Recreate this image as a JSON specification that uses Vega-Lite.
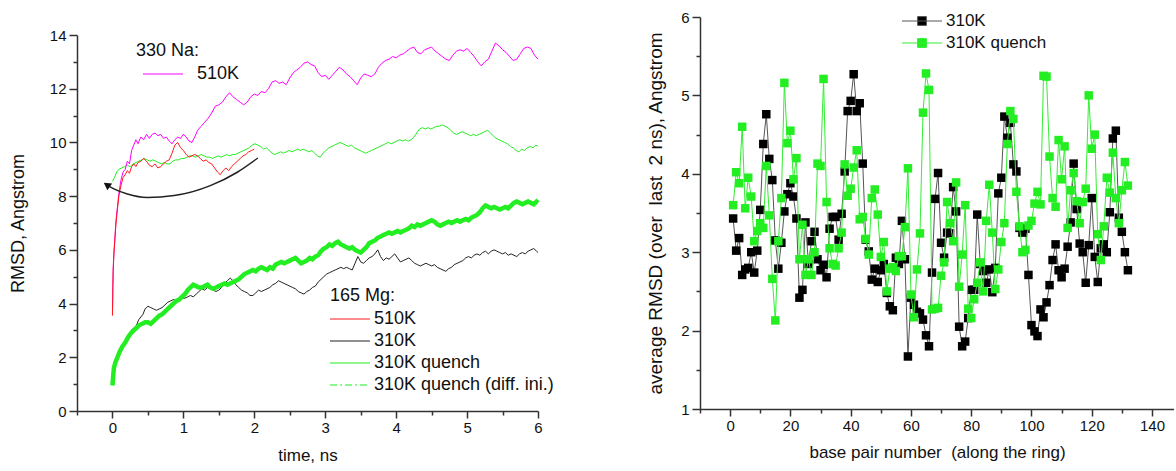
{
"$schema": "https://vega.github.io/schema/vega-lite/v6.json",
"background": "white",
"padding": {"left": 9, "top": 10, "right": 0, "bottom": 0},
"spacing": 92,
"resolve": {"scale": {"color": "independent", "stroke": "independent"}, "legend": {"color": "independent", "stroke": "independent"}},
"config": {
  "view": {"stroke": null},
  "font": "Liberation Sans",
  "axis": {"domainColor": "#333", "domainWidth": 1.5, "tickColor": "#333", "tickWidth": 1.5, "labelFont": "Liberation Sans", "labelFontSize": 15, "labelColor": "#111", "titleFont": "Liberation Sans", "titleFontSize": 17, "titleFontWeight": "normal", "titleColor": "#111", "grid": false, "labelPadding": 3, "labelFlush": false, "labelOverlap": false},
  "legend": {"titleFont": "Liberation Sans", "labelFont": "Liberation Sans", "titleFontWeight": "normal", "titleColor": "#111", "labelColor": "#111", "labelLimit": 400}
},
"datasets": {
"na510": [{"t":0,"v":3.6},{"t":0.005,"v":4.6},{"t":0.01,"v":5.3},{"t":0.02,"v":5.9},{"t":0.035,"v":6.5},{"t":0.05,"v":7.1},{"t":0.07,"v":7.6},{"t":0.09,"v":8.1},{"t":0.12,"v":8.6},{"t":0.15,"v":8.9},{"t":0.18,"v":9.0},{"t":0.21,"v":9.3},{"t":0.24,"v":9.2},{"t":0.27,"v":9.7},{"t":0.3,"v":9.9},{"t":0.33,"v":10.1},{"t":0.36,"v":9.95},{"t":0.4,"v":10.2},{"t":0.44,"v":10.1},{"t":0.48,"v":10.3},{"t":0.52,"v":10.15},{"t":0.56,"v":10.3},{"t":0.6,"v":10.35},{"t":0.64,"v":10.25},{"t":0.68,"v":10.3},{"t":0.72,"v":10.15},{"t":0.76,"v":10.2},{"t":0.8,"v":10.05},{"t":0.84,"v":9.95},{"t":0.88,"v":10.1},{"t":0.92,"v":10.2},{"t":0.96,"v":10.15},{"t":1.0,"v":10.3},{"t":1.04,"v":10.2},{"t":1.08,"v":10.05},{"t":1.12,"v":10.0},{"t":1.16,"v":10.2},{"t":1.2,"v":10.45},{"t":1.25,"v":10.6},{"t":1.3,"v":10.75},{"t":1.35,"v":10.9},{"t":1.4,"v":11.1},{"t":1.45,"v":11.35},{"t":1.5,"v":11.4},{"t":1.55,"v":11.5},{"t":1.6,"v":11.7},{"t":1.65,"v":11.85},{"t":1.7,"v":11.7},{"t":1.75,"v":11.6},{"t":1.8,"v":11.5},{"t":1.85,"v":11.4},{"t":1.9,"v":11.5},{"t":1.95,"v":11.7},{"t":2.0,"v":11.8},{"t":2.05,"v":11.75},{"t":2.1,"v":11.9},{"t":2.15,"v":11.85},{"t":2.2,"v":12.0},{"t":2.25,"v":12.25},{"t":2.3,"v":12.3},{"t":2.35,"v":12.2},{"t":2.4,"v":12.25},{"t":2.45,"v":12.15},{"t":2.5,"v":12.4},{"t":2.55,"v":12.6},{"t":2.6,"v":12.7},{"t":2.65,"v":12.8},{"t":2.7,"v":12.95},{"t":2.75,"v":13.0},{"t":2.8,"v":12.9},{"t":2.85,"v":12.85},{"t":2.9,"v":12.6},{"t":2.95,"v":12.45},{"t":3.0,"v":12.5},{"t":3.05,"v":12.35},{"t":3.1,"v":12.5},{"t":3.15,"v":12.65},{"t":3.2,"v":12.8},{"t":3.25,"v":12.7},{"t":3.3,"v":12.55},{"t":3.35,"v":12.45},{"t":3.4,"v":12.3},{"t":3.45,"v":12.15},{"t":3.5,"v":12.4},{"t":3.55,"v":12.55},{"t":3.6,"v":12.5},{"t":3.65,"v":12.45},{"t":3.7,"v":12.55},{"t":3.75,"v":12.8},{"t":3.8,"v":12.95},{"t":3.85,"v":13.05},{"t":3.9,"v":13.1},{"t":3.95,"v":13.2},{"t":4.0,"v":13.15},{"t":4.05,"v":13.25},{"t":4.1,"v":13.3},{"t":4.15,"v":13.4},{"t":4.2,"v":13.5},{"t":4.25,"v":13.55},{"t":4.3,"v":13.35},{"t":4.35,"v":13.3},{"t":4.4,"v":13.45},{"t":4.45,"v":13.5},{"t":4.5,"v":13.55},{"t":4.55,"v":13.4},{"t":4.6,"v":13.3},{"t":4.65,"v":13.2},{"t":4.7,"v":13.1},{"t":4.75,"v":13.05},{"t":4.8,"v":13.25},{"t":4.85,"v":13.4},{"t":4.9,"v":13.45},{"t":4.95,"v":13.4},{"t":5.0,"v":13.5},{"t":5.05,"v":13.35},{"t":5.1,"v":13.2},{"t":5.15,"v":13.0},{"t":5.2,"v":12.85},{"t":5.25,"v":13.0},{"t":5.3,"v":13.1},{"t":5.35,"v":13.4},{"t":5.4,"v":13.7},{"t":5.45,"v":13.6},{"t":5.5,"v":13.45},{"t":5.55,"v":13.35},{"t":5.6,"v":13.2},{"t":5.65,"v":13.05},{"t":5.7,"v":13.1},{"t":5.75,"v":13.3},{"t":5.8,"v":13.5},{"t":5.85,"v":13.55},{"t":5.9,"v":13.5},{"t":5.95,"v":13.25},{"t":6.0,"v":13.1}],
"mg510": [{"t":0,"v":3.55},{"t":0.005,"v":4.5},{"t":0.01,"v":5.2},{"t":0.02,"v":5.8},{"t":0.035,"v":6.4},{"t":0.05,"v":7.0},{"t":0.07,"v":7.5},{"t":0.09,"v":8.0},{"t":0.12,"v":8.4},{"t":0.15,"v":8.7},{"t":0.18,"v":8.8},{"t":0.21,"v":8.95},{"t":0.24,"v":8.85},{"t":0.27,"v":9.1},{"t":0.3,"v":9.2},{"t":0.33,"v":9.1},{"t":0.36,"v":9.25},{"t":0.4,"v":9.3},{"t":0.44,"v":9.4},{"t":0.48,"v":9.3},{"t":0.52,"v":9.15},{"t":0.56,"v":9.1},{"t":0.6,"v":9.2},{"t":0.64,"v":9.05},{"t":0.68,"v":9.1},{"t":0.72,"v":9.2},{"t":0.76,"v":9.3},{"t":0.8,"v":9.35},{"t":0.84,"v":9.6},{"t":0.88,"v":9.9},{"t":0.92,"v":10.0},{"t":0.96,"v":9.8},{"t":1.0,"v":9.7},{"t":1.04,"v":9.55},{"t":1.08,"v":9.45},{"t":1.12,"v":9.5},{"t":1.16,"v":9.55},{"t":1.2,"v":9.5},{"t":1.24,"v":9.4},{"t":1.28,"v":9.3},{"t":1.32,"v":9.35},{"t":1.36,"v":9.25},{"t":1.4,"v":9.2},{"t":1.44,"v":9.05},{"t":1.48,"v":8.9},{"t":1.52,"v":8.8},{"t":1.56,"v":8.95},{"t":1.6,"v":9.05},{"t":1.64,"v":8.95},{"t":1.68,"v":9.1},{"t":1.72,"v":9.2},{"t":1.76,"v":9.3},{"t":1.8,"v":9.4},{"t":1.84,"v":9.5},{"t":1.88,"v":9.55},{"t":1.92,"v":9.65},{"t":1.96,"v":9.7},{"t":2.0,"v":9.75}],
"q310": [{"t":0,"v":8.55},{"t":0.03,"v":8.7},{"t":0.06,"v":8.9},{"t":0.09,"v":9.0},{"t":0.13,"v":9.05},{"t":0.17,"v":9.1},{"t":0.21,"v":9.15},{"t":0.25,"v":9.1},{"t":0.29,"v":9.2},{"t":0.33,"v":9.25},{"t":0.37,"v":9.3},{"t":0.41,"v":9.35},{"t":0.45,"v":9.4},{"t":0.49,"v":9.35},{"t":0.53,"v":9.3},{"t":0.57,"v":9.35},{"t":0.61,"v":9.3},{"t":0.65,"v":9.25},{"t":0.69,"v":9.2},{"t":0.73,"v":9.25},{"t":0.77,"v":9.2},{"t":0.81,"v":9.2},{"t":0.85,"v":9.3},{"t":0.89,"v":9.35},{"t":0.93,"v":9.35},{"t":0.97,"v":9.4},{"t":1.01,"v":9.4},{"t":1.05,"v":9.45},{"t":1.09,"v":9.5},{"t":1.13,"v":9.5},{"t":1.17,"v":9.45},{"t":1.21,"v":9.5},{"t":1.25,"v":9.55},{"t":1.29,"v":9.5},{"t":1.33,"v":9.45},{"t":1.37,"v":9.45},{"t":1.41,"v":9.4},{"t":1.45,"v":9.45},{"t":1.49,"v":9.5},{"t":1.53,"v":9.45},{"t":1.57,"v":9.5},{"t":1.61,"v":9.55},{"t":1.65,"v":9.5},{"t":1.69,"v":9.55},{"t":1.73,"v":9.55},{"t":1.77,"v":9.6},{"t":1.81,"v":9.65},{"t":1.85,"v":9.7},{"t":1.89,"v":9.75},{"t":1.93,"v":9.8},{"t":1.97,"v":9.9},{"t":2.01,"v":9.95},{"t":2.05,"v":9.9},{"t":2.09,"v":9.85},{"t":2.13,"v":9.75},{"t":2.17,"v":9.8},{"t":2.21,"v":9.7},{"t":2.25,"v":9.6},{"t":2.29,"v":9.55},{"t":2.33,"v":9.6},{"t":2.37,"v":9.65},{"t":2.41,"v":9.6},{"t":2.45,"v":9.65},{"t":2.49,"v":9.7},{"t":2.53,"v":9.65},{"t":2.57,"v":9.7},{"t":2.61,"v":9.75},{"t":2.65,"v":9.7},{"t":2.69,"v":9.75},{"t":2.73,"v":9.7},{"t":2.77,"v":9.65},{"t":2.81,"v":9.7},{"t":2.85,"v":9.6},{"t":2.89,"v":9.5},{"t":2.93,"v":9.45},{"t":2.97,"v":9.6},{"t":3.01,"v":9.7},{"t":3.05,"v":9.8},{"t":3.09,"v":9.85},{"t":3.13,"v":9.9},{"t":3.17,"v":9.95},{"t":3.21,"v":10.0},{"t":3.25,"v":9.95},{"t":3.29,"v":9.9},{"t":3.33,"v":9.85},{"t":3.37,"v":9.9},{"t":3.41,"v":9.8},{"t":3.45,"v":9.75},{"t":3.49,"v":9.7},{"t":3.53,"v":9.65},{"t":3.57,"v":9.6},{"t":3.61,"v":9.65},{"t":3.65,"v":9.7},{"t":3.69,"v":9.75},{"t":3.73,"v":9.8},{"t":3.77,"v":9.85},{"t":3.81,"v":9.9},{"t":3.85,"v":9.95},{"t":3.89,"v":10.0},{"t":3.93,"v":9.95},{"t":3.97,"v":10.0},{"t":4.01,"v":10.05},{"t":4.05,"v":10.1},{"t":4.09,"v":10.05},{"t":4.13,"v":10.1},{"t":4.17,"v":10.05},{"t":4.21,"v":10.1},{"t":4.25,"v":10.2},{"t":4.29,"v":10.35},{"t":4.33,"v":10.5},{"t":4.37,"v":10.55},{"t":4.41,"v":10.5},{"t":4.45,"v":10.55},{"t":4.49,"v":10.5},{"t":4.53,"v":10.55},{"t":4.57,"v":10.6},{"t":4.61,"v":10.6},{"t":4.65,"v":10.65},{"t":4.69,"v":10.6},{"t":4.73,"v":10.55},{"t":4.77,"v":10.45},{"t":4.81,"v":10.35},{"t":4.85,"v":10.3},{"t":4.89,"v":10.35},{"t":4.93,"v":10.4},{"t":4.97,"v":10.35},{"t":5.01,"v":10.3},{"t":5.05,"v":10.25},{"t":5.09,"v":10.3},{"t":5.13,"v":10.25},{"t":5.17,"v":10.3},{"t":5.21,"v":10.35},{"t":5.25,"v":10.4},{"t":5.29,"v":10.45},{"t":5.33,"v":10.35},{"t":5.37,"v":10.25},{"t":5.41,"v":10.15},{"t":5.45,"v":10.1},{"t":5.49,"v":10.05},{"t":5.53,"v":10.0},{"t":5.57,"v":9.95},{"t":5.61,"v":9.85},{"t":5.65,"v":9.8},{"t":5.69,"v":9.7},{"t":5.73,"v":9.65},{"t":5.77,"v":9.75},{"t":5.81,"v":9.7},{"t":5.85,"v":9.8},{"t":5.89,"v":9.85},{"t":5.93,"v":9.8},{"t":5.97,"v":9.9},{"t":6.0,"v":9.85}],
"mg310": [{"t":0,"v":1.0},{"t":0.02,"v":1.5},{"t":0.04,"v":1.8},{"t":0.07,"v":2.0},{"t":0.1,"v":2.2},{"t":0.13,"v":2.35},{"t":0.16,"v":2.5},{"t":0.19,"v":2.6},{"t":0.22,"v":2.75},{"t":0.25,"v":2.9},{"t":0.28,"v":3.05},{"t":0.31,"v":3.1},{"t":0.34,"v":3.2},{"t":0.37,"v":3.4},{"t":0.4,"v":3.5},{"t":0.43,"v":3.6},{"t":0.46,"v":3.8},{"t":0.5,"v":3.9},{"t":0.54,"v":3.85},{"t":0.58,"v":3.8},{"t":0.62,"v":3.75},{"t":0.66,"v":3.8},{"t":0.7,"v":3.85},{"t":0.74,"v":3.95},{"t":0.78,"v":4.05},{"t":0.82,"v":4.1},{"t":0.86,"v":4.15},{"t":0.9,"v":4.1},{"t":0.94,"v":4.15},{"t":0.98,"v":4.2},{"t":1.02,"v":4.2},{"t":1.06,"v":4.25},{"t":1.1,"v":4.3},{"t":1.14,"v":4.25},{"t":1.18,"v":4.35},{"t":1.22,"v":4.45},{"t":1.26,"v":4.55},{"t":1.3,"v":4.5},{"t":1.34,"v":4.6},{"t":1.38,"v":4.55},{"t":1.42,"v":4.5},{"t":1.46,"v":4.45},{"t":1.5,"v":4.5},{"t":1.54,"v":4.6},{"t":1.58,"v":4.75},{"t":1.62,"v":4.85},{"t":1.66,"v":4.95},{"t":1.7,"v":4.85},{"t":1.74,"v":4.7},{"t":1.78,"v":4.6},{"t":1.82,"v":4.5},{"t":1.86,"v":4.45},{"t":1.9,"v":4.4},{"t":1.94,"v":4.3},{"t":1.98,"v":4.3},{"t":2.02,"v":4.4},{"t":2.06,"v":4.5},{"t":2.1,"v":4.45},{"t":2.14,"v":4.5},{"t":2.18,"v":4.55},{"t":2.22,"v":4.6},{"t":2.26,"v":4.7},{"t":2.3,"v":4.75},{"t":2.34,"v":4.85},{"t":2.38,"v":4.8},{"t":2.42,"v":4.75},{"t":2.46,"v":4.7},{"t":2.5,"v":4.65},{"t":2.54,"v":4.6},{"t":2.58,"v":4.55},{"t":2.62,"v":4.45},{"t":2.66,"v":4.4},{"t":2.7,"v":4.35},{"t":2.74,"v":4.45},{"t":2.78,"v":4.5},{"t":2.82,"v":4.6},{"t":2.86,"v":4.65},{"t":2.9,"v":4.8},{"t":2.94,"v":4.9},{"t":2.98,"v":5.0},{"t":3.02,"v":5.1},{"t":3.06,"v":5.15},{"t":3.1,"v":5.2},{"t":3.14,"v":5.25},{"t":3.18,"v":5.3},{"t":3.22,"v":5.35},{"t":3.26,"v":5.3},{"t":3.3,"v":5.35},{"t":3.34,"v":5.3},{"t":3.38,"v":5.25},{"t":3.42,"v":5.5},{"t":3.46,"v":5.75},{"t":3.5,"v":5.55},{"t":3.54,"v":5.5},{"t":3.58,"v":5.6},{"t":3.62,"v":5.7},{"t":3.66,"v":5.75},{"t":3.7,"v":5.85},{"t":3.74,"v":6.0},{"t":3.78,"v":5.75},{"t":3.82,"v":5.6},{"t":3.86,"v":5.7},{"t":3.9,"v":5.65},{"t":3.94,"v":5.75},{"t":3.98,"v":5.85},{"t":4.02,"v":5.7},{"t":4.06,"v":5.55},{"t":4.1,"v":5.6},{"t":4.14,"v":5.65},{"t":4.18,"v":5.7},{"t":4.22,"v":5.6},{"t":4.26,"v":5.5},{"t":4.3,"v":5.45},{"t":4.34,"v":5.4},{"t":4.38,"v":5.45},{"t":4.42,"v":5.5},{"t":4.46,"v":5.45},{"t":4.5,"v":5.4},{"t":4.54,"v":5.45},{"t":4.58,"v":5.35},{"t":4.62,"v":5.3},{"t":4.66,"v":5.25},{"t":4.7,"v":5.2},{"t":4.74,"v":5.3},{"t":4.78,"v":5.35},{"t":4.82,"v":5.45},{"t":4.86,"v":5.5},{"t":4.9,"v":5.55},{"t":4.94,"v":5.6},{"t":4.98,"v":5.7},{"t":5.02,"v":5.75},{"t":5.06,"v":5.7},{"t":5.1,"v":5.8},{"t":5.14,"v":5.85},{"t":5.18,"v":5.8},{"t":5.22,"v":5.9},{"t":5.26,"v":5.95},{"t":5.3,"v":5.85},{"t":5.34,"v":5.95},{"t":5.38,"v":6.0},{"t":5.42,"v":5.95},{"t":5.46,"v":5.9},{"t":5.5,"v":5.85},{"t":5.54,"v":5.9},{"t":5.58,"v":5.8},{"t":5.62,"v":5.85},{"t":5.66,"v":5.8},{"t":5.7,"v":5.75},{"t":5.74,"v":5.85},{"t":5.78,"v":5.9},{"t":5.82,"v":5.85},{"t":5.86,"v":5.95},{"t":5.9,"v":6.0},{"t":5.94,"v":6.05},{"t":5.98,"v":5.95},{"t":6.0,"v":5.9}],
"qdiff": [{"t":0,"v":0.95},{"t":0.01,"v":1.3},{"t":0.02,"v":1.6},{"t":0.04,"v":1.8},{"t":0.07,"v":2.0},{"t":0.1,"v":2.2},{"t":0.14,"v":2.4},{"t":0.18,"v":2.55},{"t":0.22,"v":2.75},{"t":0.26,"v":2.9},{"t":0.3,"v":3.0},{"t":0.34,"v":3.1},{"t":0.38,"v":3.2},{"t":0.42,"v":3.25},{"t":0.46,"v":3.3},{"t":0.5,"v":3.3},{"t":0.54,"v":3.25},{"t":0.58,"v":3.35},{"t":0.62,"v":3.45},{"t":0.66,"v":3.55},{"t":0.7,"v":3.6},{"t":0.74,"v":3.7},{"t":0.78,"v":3.8},{"t":0.82,"v":3.9},{"t":0.86,"v":4.0},{"t":0.9,"v":4.1},{"t":0.94,"v":4.15},{"t":0.98,"v":4.25},{"t":1.02,"v":4.35},{"t":1.06,"v":4.5},{"t":1.1,"v":4.6},{"t":1.14,"v":4.7},{"t":1.18,"v":4.65},{"t":1.22,"v":4.6},{"t":1.26,"v":4.6},{"t":1.3,"v":4.65},{"t":1.34,"v":4.7},{"t":1.38,"v":4.6},{"t":1.42,"v":4.55},{"t":1.46,"v":4.6},{"t":1.5,"v":4.65},{"t":1.54,"v":4.7},{"t":1.58,"v":4.75},{"t":1.62,"v":4.7},{"t":1.66,"v":4.75},{"t":1.7,"v":4.8},{"t":1.74,"v":4.85},{"t":1.78,"v":4.9},{"t":1.82,"v":5.0},{"t":1.86,"v":5.1},{"t":1.9,"v":5.15},{"t":1.94,"v":5.2},{"t":1.98,"v":5.25},{"t":2.02,"v":5.2},{"t":2.06,"v":5.3},{"t":2.1,"v":5.35},{"t":2.14,"v":5.3},{"t":2.18,"v":5.25},{"t":2.22,"v":5.35},{"t":2.26,"v":5.3},{"t":2.3,"v":5.45},{"t":2.34,"v":5.5},{"t":2.38,"v":5.55},{"t":2.42,"v":5.5},{"t":2.46,"v":5.55},{"t":2.5,"v":5.6},{"t":2.54,"v":5.65},{"t":2.58,"v":5.7},{"t":2.62,"v":5.6},{"t":2.66,"v":5.5},{"t":2.7,"v":5.55},{"t":2.74,"v":5.6},{"t":2.78,"v":5.7},{"t":2.82,"v":5.65},{"t":2.86,"v":5.75},{"t":2.9,"v":5.8},{"t":2.94,"v":5.95},{"t":2.98,"v":6.05},{"t":3.02,"v":6.1},{"t":3.06,"v":6.2},{"t":3.1,"v":6.15},{"t":3.14,"v":6.25},{"t":3.18,"v":6.3},{"t":3.22,"v":6.2},{"t":3.26,"v":6.15},{"t":3.3,"v":6.1},{"t":3.34,"v":6.05},{"t":3.38,"v":6.1},{"t":3.42,"v":6.0},{"t":3.46,"v":5.95},{"t":3.5,"v":5.9},{"t":3.54,"v":6.0},{"t":3.58,"v":6.1},{"t":3.62,"v":6.25},{"t":3.66,"v":6.3},{"t":3.7,"v":6.35},{"t":3.74,"v":6.45},{"t":3.78,"v":6.5},{"t":3.82,"v":6.55},{"t":3.86,"v":6.6},{"t":3.9,"v":6.65},{"t":3.94,"v":6.6},{"t":3.98,"v":6.65},{"t":4.02,"v":6.7},{"t":4.06,"v":6.65},{"t":4.1,"v":6.7},{"t":4.14,"v":6.75},{"t":4.18,"v":6.8},{"t":4.22,"v":6.9},{"t":4.26,"v":6.85},{"t":4.3,"v":6.95},{"t":4.34,"v":6.9},{"t":4.38,"v":6.95},{"t":4.42,"v":7.0},{"t":4.46,"v":7.05},{"t":4.5,"v":7.1},{"t":4.54,"v":7.05},{"t":4.58,"v":6.95},{"t":4.62,"v":6.9},{"t":4.66,"v":6.95},{"t":4.7,"v":7.0},{"t":4.74,"v":7.05},{"t":4.78,"v":7.0},{"t":4.82,"v":7.05},{"t":4.86,"v":7.1},{"t":4.9,"v":7.05},{"t":4.94,"v":7.1},{"t":4.98,"v":7.15},{"t":5.02,"v":7.1},{"t":5.06,"v":7.2},{"t":5.1,"v":7.25},{"t":5.14,"v":7.3},{"t":5.18,"v":7.4},{"t":5.22,"v":7.55},{"t":5.26,"v":7.65},{"t":5.3,"v":7.6},{"t":5.34,"v":7.55},{"t":5.38,"v":7.6},{"t":5.42,"v":7.55},{"t":5.46,"v":7.5},{"t":5.5,"v":7.55},{"t":5.54,"v":7.6},{"t":5.58,"v":7.55},{"t":5.62,"v":7.65},{"t":5.66,"v":7.75},{"t":5.7,"v":7.8},{"t":5.74,"v":7.75},{"t":5.78,"v":7.7},{"t":5.82,"v":7.75},{"t":5.86,"v":7.8},{"t":5.9,"v":7.75},{"t":5.94,"v":7.7},{"t":5.98,"v":7.8},{"t":6.0,"v":7.75}],
"arrow": [{"t":-0.06,"v":8.38},{"t":0.02,"v":8.27},{"t":0.21,"v":8.08},{"t":0.49,"v":7.95},{"t":0.87,"v":8.02},{"t":1.38,"v":8.39},{"t":1.76,"v":8.89},{"t":2.05,"v":9.42}],
"arrowhead": [{"t":-0.08,"v":8.42}],
"r310": [{"bp":1,"v":3.43},{"bp":2,"v":3.02},{"bp":3,"v":3.18},{"bp":4,"v":2.71},{"bp":5,"v":2.78},{"bp":6,"v":2.8},{"bp":7,"v":3.0},{"bp":8,"v":2.74},{"bp":9,"v":3.02},{"bp":10,"v":3.54},{"bp":11,"v":4.38},{"bp":12,"v":4.76},{"bp":13,"v":4.19},{"bp":14,"v":3.92},{"bp":15,"v":3.15},{"bp":16,"v":2.79},{"bp":17,"v":3.12},{"bp":18,"v":3.52},{"bp":19,"v":3.74},{"bp":20,"v":3.88},{"bp":21,"v":3.71},{"bp":22,"v":3.43},{"bp":23,"v":2.42},{"bp":24,"v":2.52},{"bp":25,"v":3.38},{"bp":26,"v":2.85},{"bp":27,"v":3.14},{"bp":28,"v":3.26},{"bp":29,"v":2.91},{"bp":30,"v":2.77},{"bp":31,"v":2.84},{"bp":32,"v":2.68},{"bp":33,"v":3.3},{"bp":34,"v":3.45},{"bp":35,"v":3.45},{"bp":36,"v":3.16},{"bp":37,"v":3.49},{"bp":38,"v":4.03},{"bp":39,"v":4.8},{"bp":40,"v":4.93},{"bp":41,"v":5.27},{"bp":42,"v":4.8},{"bp":43,"v":4.9},{"bp":44,"v":4.13},{"bp":45,"v":3.16},{"bp":46,"v":3.01},{"bp":47,"v":2.65},{"bp":48,"v":2.79},{"bp":49,"v":2.62},{"bp":50,"v":2.77},{"bp":51,"v":2.85},{"bp":52,"v":2.48},{"bp":53,"v":2.31},{"bp":54,"v":2.26},{"bp":55,"v":2.93},{"bp":56,"v":2.85},{"bp":57,"v":3.4},{"bp":58,"v":2.91},{"bp":59,"v":1.67},{"bp":60,"v":2.42},{"bp":61,"v":2.33},{"bp":62,"v":2.24},{"bp":63,"v":2.22},{"bp":64,"v":2.14},{"bp":65,"v":1.94},{"bp":66,"v":1.8},{"bp":67,"v":2.74},{"bp":68,"v":3.68},{"bp":69,"v":4.01},{"bp":70,"v":3.12},{"bp":71,"v":2.93},{"bp":72,"v":3.25},{"bp":73,"v":3.24},{"bp":74,"v":3.83},{"bp":75,"v":3.52},{"bp":76,"v":2.05},{"bp":77,"v":1.8},{"bp":78,"v":1.86},{"bp":79,"v":2.16},{"bp":80,"v":2.52},{"bp":81,"v":2.52},{"bp":82,"v":3.48},{"bp":83,"v":2.85},{"bp":84,"v":2.76},{"bp":85,"v":2.61},{"bp":86,"v":2.78},{"bp":87,"v":2.49},{"bp":88,"v":2.8},{"bp":89,"v":3.75},{"bp":90,"v":3.95},{"bp":91,"v":4.73},{"bp":92,"v":4.46},{"bp":93,"v":4.65},{"bp":94,"v":4.12},{"bp":95,"v":4.03},{"bp":96,"v":3.31},{"bp":97,"v":3.25},{"bp":98,"v":3.3},{"bp":99,"v":2.71},{"bp":100,"v":2.07},{"bp":101,"v":1.99},{"bp":102,"v":1.93},{"bp":103,"v":2.27},{"bp":104,"v":2.17},{"bp":105,"v":2.36},{"bp":106,"v":2.58},{"bp":107,"v":2.9},{"bp":108,"v":3.1},{"bp":109,"v":2.77},{"bp":110,"v":2.68},{"bp":111,"v":2.79},{"bp":112,"v":3.07},{"bp":113,"v":3.38},{"bp":114,"v":4.13},{"bp":115,"v":3.55},{"bp":116,"v":3.11},{"bp":117,"v":3.0},{"bp":118,"v":2.61},{"bp":119,"v":3.09},{"bp":120,"v":3.69},{"bp":121,"v":2.94},{"bp":122,"v":2.62},{"bp":123,"v":3.05},{"bp":124,"v":3.1},{"bp":125,"v":3.0},{"bp":126,"v":3.51},{"bp":127,"v":4.45},{"bp":128,"v":4.55},{"bp":129,"v":3.44},{"bp":130,"v":3.26},{"bp":131,"v":3.0},{"bp":132,"v":2.77}],
"rq310": [{"bp":1,"v":3.6},{"bp":2,"v":4.02},{"bp":3,"v":3.88},{"bp":4,"v":4.6},{"bp":5,"v":3.56},{"bp":6,"v":3.95},{"bp":7,"v":3.71},{"bp":8,"v":3.14},{"bp":9,"v":3.27},{"bp":10,"v":3.37},{"bp":11,"v":3.31},{"bp":12,"v":4.1},{"bp":13,"v":3.47},{"bp":14,"v":2.66},{"bp":15,"v":2.13},{"bp":16,"v":3.14},{"bp":17,"v":3.69},{"bp":18,"v":5.16},{"bp":19,"v":4.39},{"bp":20,"v":4.55},{"bp":21,"v":3.93},{"bp":22,"v":4.2},{"bp":23,"v":2.91},{"bp":24,"v":3.35},{"bp":25,"v":2.71},{"bp":26,"v":2.91},{"bp":27,"v":2.71},{"bp":28,"v":3.0},{"bp":29,"v":4.13},{"bp":30,"v":4.1},{"bp":31,"v":5.21},{"bp":32,"v":3.64},{"bp":33,"v":3.05},{"bp":34,"v":2.85},{"bp":35,"v":2.83},{"bp":36,"v":3.05},{"bp":37,"v":3.25},{"bp":38,"v":4.12},{"bp":39,"v":3.72},{"bp":40,"v":3.81},{"bp":41,"v":4.08},{"bp":42,"v":4.3},{"bp":43,"v":3.42},{"bp":44,"v":3.45},{"bp":45,"v":3.17},{"bp":46,"v":2.97},{"bp":47,"v":3.69},{"bp":48,"v":3.8},{"bp":49,"v":3.48},{"bp":50,"v":2.94},{"bp":51,"v":3.13},{"bp":52,"v":2.5},{"bp":53,"v":2.79},{"bp":54,"v":2.81},{"bp":55,"v":2.76},{"bp":56,"v":2.95},{"bp":57,"v":2.95},{"bp":58,"v":3.32},{"bp":59,"v":4.07},{"bp":60,"v":2.46},{"bp":61,"v":2.17},{"bp":62,"v":2.78},{"bp":63,"v":3.24},{"bp":64,"v":4.78},{"bp":65,"v":5.28},{"bp":66,"v":5.07},{"bp":67,"v":2.27},{"bp":68,"v":2.28},{"bp":69,"v":2.29},{"bp":70,"v":2.7},{"bp":71,"v":2.87},{"bp":72,"v":3.64},{"bp":73,"v":3.37},{"bp":74,"v":3.14},{"bp":75,"v":3.89},{"bp":76,"v":2.56},{"bp":77,"v":2.97},{"bp":78,"v":3.6},{"bp":79,"v":2.28},{"bp":80,"v":2.16},{"bp":81,"v":2.4},{"bp":82,"v":2.61},{"bp":83,"v":2.87},{"bp":84,"v":2.5},{"bp":85,"v":3.4},{"bp":86,"v":3.86},{"bp":87,"v":3.25},{"bp":88,"v":2.53},{"bp":89,"v":2.78},{"bp":90,"v":3.13},{"bp":91,"v":3.37},{"bp":92,"v":4.38},{"bp":93,"v":4.8},{"bp":94,"v":4.7},{"bp":95,"v":3.77},{"bp":96,"v":3.33},{"bp":97,"v":3.0},{"bp":98,"v":3.03},{"bp":99,"v":3.34},{"bp":100,"v":3.4},{"bp":101,"v":3.62},{"bp":102,"v":3.77},{"bp":103,"v":3.61},{"bp":104,"v":5.25},{"bp":105,"v":5.24},{"bp":106,"v":4.22},{"bp":107,"v":3.69},{"bp":108,"v":3.58},{"bp":109,"v":4.43},{"bp":110,"v":3.93},{"bp":111,"v":4.35},{"bp":112,"v":3.31},{"bp":113,"v":3.79},{"bp":114,"v":4.01},{"bp":115,"v":3.65},{"bp":116,"v":3.37},{"bp":117,"v":3.64},{"bp":118,"v":3.81},{"bp":119,"v":5.0},{"bp":120,"v":4.32},{"bp":121,"v":4.5},{"bp":122,"v":3.23},{"bp":123,"v":2.9},{"bp":124,"v":3.33},{"bp":125,"v":3.95},{"bp":126,"v":3.76},{"bp":127,"v":4.27},{"bp":128,"v":3.69},{"bp":129,"v":3.37},{"bp":130,"v":3.79},{"bp":131,"v":4.15},{"bp":132,"v":3.85}]
},
"hconcat": [
{
  "width": 461, "height": 394,
  "encoding": {
    "x": {"field": "t", "type": "quantitative", "scale": {"domain": [-0.5, 6], "nice": false, "zero": false},
      "axis": {"title": "time, ns", "titlePadding": 12, "labelPadding": 2, "values": [-0.5,0,0.5,1,1.5,2,2.5,3,3.5,4,4.5,5,5.5,6], "labelExpr": "datum.value % 1 === 0 ? format(datum.value, 'd') : ''", "tickSize": {"condition": {"test": "datum.value % 1 === 0", "value": 7}, "value": 4}}},
    "y": {"field": "v", "type": "quantitative", "scale": {"domain": [0, 14], "nice": false, "range": [394, 18]},
      "axis": {"title": "RMSD, Angstrom", "titlePadding": 22, "titleFontSize": 18, "values": [0,1,2,3,4,5,6,7,8,9,10,11,12,13,14], "labelExpr": "datum.value % 2 === 0 ? format(datum.value, 'd') : ''", "tickSize": {"condition": {"test": "datum.value % 2 === 0", "value": 8}, "value": 4}}}
  },
  "layer": [
    {"data": {"name": "q310"}, "mark": {"type": "line", "strokeWidth": 1},
     "encoding": {"color": {"datum": "310K quench", "type": "nominal",
       "scale": {"domain": ["510K", "310K", "310K quench", "310K quench (diff. ini.)"], "range": ["#ff1a1a", "#222222", "#22ee22", "#22ee22"]},
       "legend": {"title": "165 Mg:", "orient": "none", "legendX": 253, "legendY": 270, "titleFontSize": 18, "labelFontSize": 18, "titlePadding": 5, "symbolType": "M-2.5,0H2.5", "symbolSize": 256, "symbolStrokeWidth": 1.2, "symbolOffset": 11, "labelOffset": 15, "padding": 0, "rowPadding": 4, "labelLimit": 400,
         "encode": {"symbols": {"update": {"strokeDash": {"signal": "datum.label === '310K quench (diff. ini.)' ? [7,3,2,3] : [1,0]"}, "strokeWidth": {"value": 1.2}}}}}}}},
    {"data": {"name": "na510"}, "mark": {"type": "line", "strokeWidth": 1},
     "encoding": {"stroke": {"datum": "510K", "type": "nominal", "scale": {"domain": ["510K"], "range": ["#ff00ff"]},
       "legend": {"title": "330 Na:", "orient": "none", "legendX": 59, "legendY": 25, "titleFontSize": 18, "labelFontSize": 18, "titlePadding": 5, "symbolType": "M-2.5,0H2.5", "symbolSize": 256, "symbolStrokeWidth": 1.2, "symbolOffset": 18, "labelOffset": 25, "padding": 0}}}},
    {"data": {"name": "mg510"}, "mark": {"type": "line", "strokeWidth": 1}, "encoding": {"color": {"datum": "510K", "type": "nominal"}}},
    {"data": {"name": "mg310"}, "mark": {"type": "line", "strokeWidth": 1}, "encoding": {"color": {"datum": "310K", "type": "nominal"}}},
    {"data": {"name": "qdiff"}, "mark": {"type": "line", "strokeWidth": 4.5}, "encoding": {"color": {"datum": "310K quench (diff. ini.)", "type": "nominal"}}},
    {"data": {"name": "arrow"}, "mark": {"type": "line", "strokeWidth": 1.5, "color": "#222", "interpolate": "monotone"}, "encoding": {}},
    {"data": {"name": "arrowhead"}, "mark": {"type": "point", "shape": "triangle-left", "angle": 35, "size": 70, "filled": true, "opacity": 1, "color": "#111"}, "encoding": {}}
  ]
},
{
  "width": 474, "height": 392,
  "encoding": {
    "x": {"field": "bp", "type": "quantitative", "scale": {"domain": [-10, 147.3], "nice": false, "zero": false},
      "axis": {"title": "base pair number \u00a0(along the ring)", "titlePadding": 11, "labelPadding": 2, "values": [-10,0,10,20,30,40,50,60,70,80,90,100,110,120,130,140], "labelExpr": "datum.value % 20 === 0 ? format(datum.value, 'd') : ''", "tickSize": {"condition": {"test": "datum.value % 20 === 0", "value": 7}, "value": 4}}},
    "y": {"field": "v", "type": "quantitative", "scale": {"domain": [1, 6], "nice": false, "zero": false},
      "axis": {"title": "average RMSD (over \u00a0last \u00a02 ns), Angstrom", "titleFontSize": 19, "titlePadding": 15, "values": [1,1.5,2,2.5,3,3.5,4,4.5,5,5.5,6], "labelExpr": "datum.value % 1 === 0 ? format(datum.value, 'd') : ''", "tickSize": {"condition": {"test": "datum.value % 1 === 0", "value": 8}, "value": 4}}}
  },
  "layer": [
    {"data": {"name": "r310"}, "mark": {"type": "line", "strokeWidth": 1},
     "encoding": {"stroke": {"datum": "310K", "type": "nominal", "scale": {"domain": ["310K", "310K quench"], "range": ["#555555", "#33ee33"]},
       "legend": {"title": null, "orient": "none", "legendX": 190, "legendY": -4.5, "labelFontSize": 17, "symbolType": "M-2.5,0H2.5M-0.55,-0.55H0.55V0.55H-0.55Z", "symbolSize": 256, "symbolStrokeWidth": 1, "symbolOffset": 23.5, "labelOffset": 15.5, "padding": 0, "rowPadding": 4,
         "encode": {"symbols": {"update": {"fill": {"signal": "datum.value === '310K' ? '#000000' : '#22ee22'"}, "fillOpacity": {"value": 1}, "strokeWidth": {"value": 1}, "opacity": {"value": 1}}}}}}}},
    {"data": {"name": "r310"}, "mark": {"type": "point", "shape": "square", "filled": true, "size": 72, "opacity": 1},
     "encoding": {"color": {"datum": "310K", "type": "nominal", "scale": {"domain": ["310K", "310K quench"], "range": ["#000000", "#22ee22"]}, "legend": null}}},
    {"data": {"name": "rq310"}, "mark": {"type": "line", "strokeWidth": 1}, "encoding": {"stroke": {"datum": "310K quench", "type": "nominal"}}},
    {"data": {"name": "rq310"}, "mark": {"type": "point", "shape": "square", "filled": true, "size": 72, "opacity": 1},
     "encoding": {"color": {"datum": "310K quench", "type": "nominal", "legend": null}}}
  ]
}
]
}
